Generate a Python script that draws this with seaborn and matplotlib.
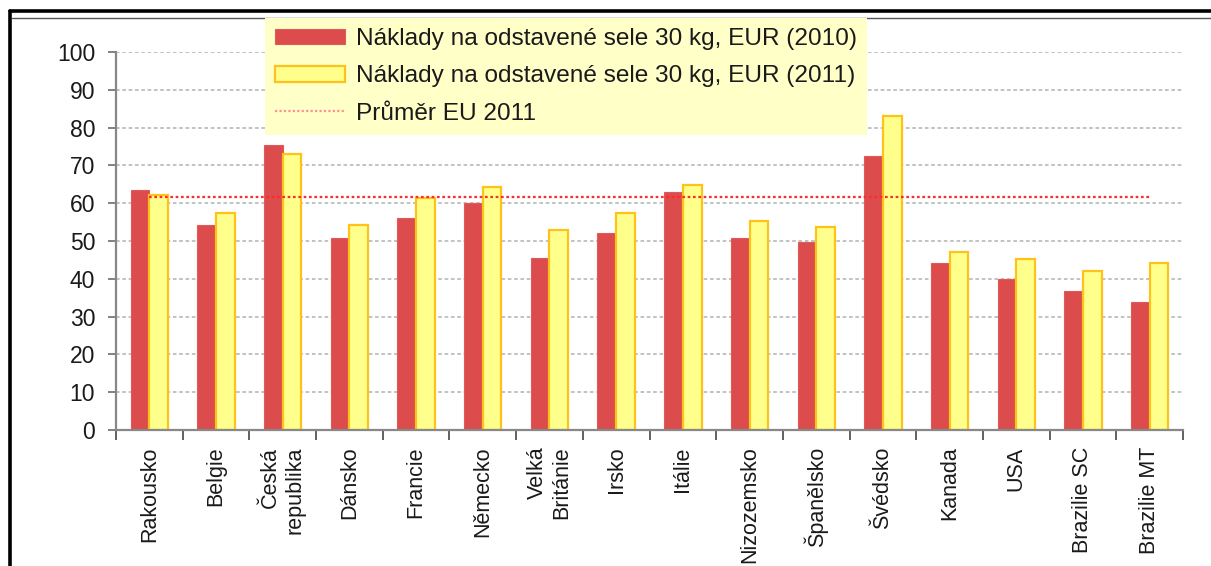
import numpy as np
import pandas as pd
import matplotlib
matplotlib.use("Agg")
import matplotlib.pyplot as plt
from matplotlib.lines import Line2D
from matplotlib.ticker import FixedLocator
import seaborn as sns

# --- data ---
countries = ["Rakousko", "Belgie", "Česká\nrepublika", "Dánsko", "Francie", "Německo",
             "Velká\nBritánie", "Irsko", "Itálie", "Nizozemsko", "Španělsko", "Švédsko",
             "Kanada", "USA", "Brazilie SC", "Brazilie MT"]
costs_2010 = [63.5, 54.3, 75.5, 50.8, 56.0, 60.0, 45.6, 52.2, 63.0, 50.8, 49.8, 72.5,
              44.2, 40.0, 36.9, 33.9]
costs_2011 = [62.3, 57.4, 73.0, 54.3, 61.4, 64.4, 52.9, 57.4, 64.9, 55.4, 53.7, 83.0,
              47.2, 45.3, 42.0, 44.3]
eu_avg_2011 = 61.7

label_2010 = "Náklady na odstavené sele 30 kg, EUR (2010)"
label_2011 = "Náklady na odstavené sele 30 kg, EUR (2011)"
label_avg = "Průměr EU 2011"

red = "#DC4C4C"
yellow = "#FFFF8C"
gold = "#FFC21A"

sns.set_style("white")
plt.rcParams["font.family"] = ["Liberation Sans", "DejaVu Sans"]

df = pd.DataFrame({
    "Země": countries * 2,
    "Náklady": costs_2010 + costs_2011,
    "Rok": [label_2010] * len(countries) + [label_2011] * len(countries),
})

fig = plt.figure(figsize=(12.11, 5.66), dpi=100)
ax = fig.add_axes([116 / 1211, 1 - 430 / 566, (1183 - 116) / 1211, (430 - 52) / 566])

sns.barplot(data=df, x="Země", y="Náklady", hue="Rok", order=countries,
            palette={label_2010: red, label_2011: yellow}, width=0.56, gap=0,
            saturation=1, ax=ax, legend=False)

# edge colours per series
for patch in ax.containers[0]:
    patch.set_edgecolor("#E05A5A")
    patch.set_linewidth(0.8)
for patch in ax.containers[1]:
    patch.set_edgecolor(gold)
    patch.set_linewidth(1.6)

# EU average line across the categories
ax.hlines(eu_avg_2011, 0, len(countries) - 1, colors="#FF2A2A",
          linestyles=(0, (1.2, 1.2)), linewidth=1.6, zorder=5)

ax.set_ylim(0, 100)
ax.set_xlim(-0.5, len(countries) - 0.5)
ax.set_yticks(range(0, 101, 10))
ax.set_xlabel("")
ax.set_ylabel("")

ax.set_axisbelow(True)
ax.yaxis.grid(True, color="#BDBDBD", linestyle=(0, (2, 1.5)), linewidth=1.3)
ax.xaxis.grid(False)

for side in ["top", "right"]:
    ax.spines[side].set_visible(False)
for side in ["left", "bottom"]:
    ax.spines[side].set_color("#888888")
    ax.spines[side].set_linewidth(1.6)

ax.tick_params(axis="y", which="major", left=True, length=6, width=1.3, color="#777777",
               labelsize=16.5, labelcolor="#1A1A1A", pad=9)
ax.xaxis.set_minor_locator(FixedLocator(np.arange(-0.5, len(countries), 1.0)))
ax.tick_params(axis="x", which="minor", bottom=True, length=7, width=1.3, color="#555555")
ax.tick_params(axis="x", which="major", bottom=False, length=0, pad=12,
               labelsize=15.5, labelcolor="#1A1A1A")
for lbl in ax.get_xticklabels():
    lbl.set_rotation(90)
    lbl.set_va("top")
    lbl.set_ha("center")
    lbl.set_multialignment("right")

# legend
handles = [
    plt.Rectangle((0, 0), 1, 1, facecolor=red, edgecolor="#E05A5A", linewidth=0.8),
    plt.Rectangle((0, 0), 1, 1, facecolor=yellow, edgecolor=gold, linewidth=1.6),
    Line2D([0], [0], color="#FF9090", linestyle=(0, (1, 1)), linewidth=1.6),
]
leg = fig.legend(handles, [label_2010, label_2011, label_avg],
                 loc="upper left", bbox_to_anchor=(265 / 1211, 1 - 18 / 566),
                 bbox_transform=fig.transFigure, fontsize=17.6, frameon=True,
                 fancybox=False, handlelength=2.85, handleheight=0.6,
                 handletextpad=0.45, labelspacing=0.62, borderpad=0.42,
                 borderaxespad=0)
leg.get_frame().set_facecolor("#FFFFC8")
leg.get_frame().set_edgecolor("none")
leg.get_frame().set_alpha(1)
for t in leg.get_texts():
    t.set_color("#1A1A1A")

# outer frame of the picture
fig.add_artist(Line2D([10 / 1211, 1.0], [1 - 11 / 566, 1 - 11 / 566], color="black",
                      linewidth=2.6, transform=fig.transFigure))
fig.add_artist(Line2D([12 / 1211, 1.0], [1 - 18 / 566, 1 - 18 / 566], color="#555555",
                      linewidth=1.0, transform=fig.transFigure))
fig.add_artist(Line2D([10 / 1211, 10 / 1211], [0, 1 - 11 / 566], color="black",
                      linewidth=2.6, transform=fig.transFigure))

fig.savefig("out.png", dpi=100)
